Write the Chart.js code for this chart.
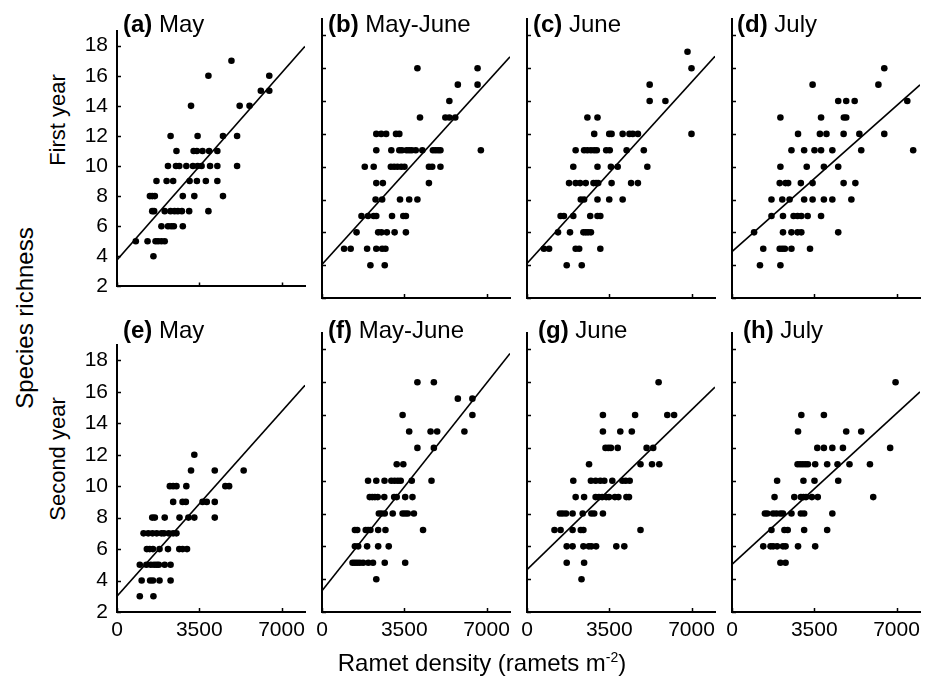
<!DOCTYPE html>
<html>
<head>
<meta charset="utf-8">
<script src="https://cdn.jsdelivr.net/npm/chart.js@4/dist/chart.umd.min.js"></script>
<style>
  body { margin: 0; background: #fff; width: 933px; height: 683px; position: relative; overflow: hidden;
         font-family: "Liberation Sans", Arial, sans-serif; color: #000; }
  canvas { position: absolute; }
  .panel-title { position: absolute; font-size: 24px; line-height: 1; white-space: nowrap; }
  .rot { position: absolute; white-space: nowrap; line-height: 1; transform: translate(-50%, -50%) rotate(-90deg); }
  .xtitle { position: absolute; font-size: 24px; line-height: 1; white-space: nowrap; transform: translateX(-50%); }
  .xtitle sup { font-size: 14px; vertical-align: 9px; }
</style>
</head>
<body>
<div id="wrap"></div>
<script>
// ---- data ----
var densityA  = [4870, 3890,6480, 6120,6480, 3150,5220,5640, 2280,3430,4510,5110,
                 2530,3260,3400,3640,3920,4270, 2170,2510,2650,2950,3230,3430,3600,3960,4270,5110,
                 1680,2110,2390,3090,3400,3780,4270, 1400,1500,1610,2800,3290,4510,
                 1500,1580,2030,2280,2450,2590,2760,3070,3890, 1890,2170,2310,2420,2800,
                 800,1300,1640,1750,1890,2030, 1550];
var richnessA = [17, 16,16, 15,15, 14,14,14, 12,12,12,12,
                 11,11,11,11,11,11, 10,10,10,10,10,10,10,10,10,10,
                 9,9,9,9,9,9,9, 8,8,8,8,8,8,
                 7,7,7,7,7,7,7,7,7, 6,6,6,6,6,
                 5,5,5,5,5,5, 4];

var densityB  = [4060,6620, 5780,6620, 5420, 4170,5250,5420,5670, 2310,2520,2730,3150,3290,
                 2310,2950,3290,3400,3600,3710,3820,3990,4270,4720,4830,4940,5040,6760,
                 1820,2200,2930,3070,3210,3370,3510,4550,4690,5040, 2310,2590,4550,
                 2280,2560,3320,3710,4060, 1680,1960,2200,2310,2980,3460,3570,
                 1470,2390,2530,2760,3090,3570, 940,1220,1920,2310,2560,2700, 2060,2670];
var richnessB = [16,16, 15,15, 14, 13,13,13,13, 12,12,12,12,12,
                 11,11,11,11,11,11,11,11,11,11,11,11,11,11,
                 10,10,10,10,10,10,10,10,10,10, 9,9,9,
                 8,8,8,8,8, 7,7,7,7,7,7,7,
                 6,6,6,6,6,6, 5,5,5,5,5,5, 4,4];

var densityC  = [6830, 7000, 5220, 5220,5890, 2570,3000,
                 2860,3500,3600,4070,4360,4500,4720,7000,
                 2070,2430,2570,2720,2860,2970,3370,3520,4240,4970,
                 1970,3000,3570,3860,5120,
                 1790,2070,2260,2500,2830,2940,3030,3600,4430,4720,
                 2290,2430,3000,3500,4070, 1430,1570,1970,2690,3000,3120,
                 1320,1830,2400,2500,2600,2720, 720,940,2070,2220,3120, 1690,2330];
var richnessC = [17, 16, 15, 14,14, 13,13,
                 12,12,12,12,12,12,12,12,
                 11,11,11,11,11,11,11,11,11,11,
                 10,10,10,10,10,
                 9,9,9,9,9,9,9,9,9,9,
                 8,8,8,8,8, 7,7,7,7,7,7,
                 6,6,6,6,6,6, 5,5,5,5,5, 4,4];

var densityD  = [6480, 3430,6230, 4520,4860,5220,7460, 2060,3790,4760,4860,
                 2810,3740,4020,4750,5420,6480, 2530,3070,3510,3790,4270,5500,7710,
                 2060,3180,3910,4520, 2030,2280,2390,2930,3430,4750,5250,
                 1680,2140,2450,3070,3430,3910,4270,5080, 1680,2170,2620,2790,2950,3220,3790,
                 940,2170,2530,2790,2950,4520, 1330,2030,2140,2250,2530,3320, 1190,2060];
var richnessD = [16, 15,15, 14,14,14,14, 13,13,13,13,
                 12,12,12,12,12,12, 11,11,11,11,11,11,11,
                 10,10,10,10, 9,9,9,9,9,9,9,
                 8,8,8,8,8,8,8,8, 7,7,7,7,7,7,7,
                 6,6,6,6,6,6, 5,5,5,5,5,5, 4,4];

var densityE  = [3290, 3150,4160,5390, 2250,2390,2530,2950,4610,4770,
                 2390,2790,2930,3640,3820,4160, 1500,1610,2030,2660,3040,3290,4160,
                 1130,1330,1510,1690,1890,2000,2200,2390,2530,
                 1270,1390,1530,1810,2170,2650,2790,2980,
                 970,1250,1440,1580,1690,1780,2030,2280, 1050,1410,1530,1810,2280, 970,1550];
var richnessE = [12, 11,11,11, 10,10,10,10,10,10,
                 9,9,9,9,9,9, 8,8,8,8,8,8,8,
                 7,7,7,7,7,7,7,7,7,
                 6,6,6,6,6,6,6,6,
                 5,5,5,5,5,5,5,5, 4,4,4,4,4, 3,3];

var densityF  = [4060,4760, 5780,6400, 3430,6400, 3710,4620,4900,6060, 4060,4760, 3180,3460,
                 1960,2310,2660,2950,3090,3230,3350,3820,4660,
                 2030,2140,2250,2370,2650,3070,3180,3540,3850,
                 2420,2530,2670,3010,3430,3540,3650,3910,
                 1400,1500,1860,1960,2060,2390,2700,4300, 1400,1540,1920,2390,2840,
                 1300,1400,1500,1610,1750,1970,2170,2670,3540, 2310];
var richnessF = [16,16, 15,15, 14,14, 13,13,13,13, 12,12, 11,11,
                 10,10,10,10,10,10,10,10,10,
                 9,9,9,9,9,9,9,9,9,
                 8,8,8,8,8,8,8,8,
                 7,7,7,7,7,7,7,7, 6,6,6,6,6,
                 5,5,5,5,5,5,5,5,5, 4];

var densityG  = [5600, 3230,4600,5970,6260, 3230,3970,4460, 3340,3460,3570,3860,5090,5370,
                 2640,4830,5320,5630, 1970,2720,2920,3120,3290,3630,4060,4200,4370,
                 2070,2430,2920,3060,3200,3370,3490,3740,3890,4230,4340,
                 1400,1520,1660,1940,2370,2740,2860,3230, 1170,1430,1940,2290,2400,4830,
                 1690,1940,2400,2630,2740,2940,3800,4140, 1690,2430, 2320];
var richnessG = [16, 14,14,14,14, 13,13,13, 12,12,12,12,12,12,
                 11,11,11,11, 10,10,10,10,10,10,10,10,10,
                 9,9,9,9,9,9,9,9,9,9,9,
                 8,8,8,8,8,8,8,8, 7,7,7,7,7,7,
                 6,6,6,6,6,6,6,6, 5,5, 4];

var densityH  = [6960, 2950,3910, 2810,4860,5500, 3630,3910,4270,4720,6730,
                 2790,2900,3010,3120,3230,3540,4050,4490,5000,5870, 1920,3040,3510,4520,
                 1810,2650,2930,3040,3150,3400,3650,6010,
                 1400,1500,1750,1890,2060,2170,2530,2930,3070,4270, 1680,2230,2370,3070,4050,
                 1330,1640,1750,1920,2170,2280,2810,3540, 2060,2280];
var richnessH = [16, 14,14, 13,13,13, 12,12,12,12,12,
                 11,11,11,11,11,11,11,11,11,11, 10,10,10,10,
                 9,9,9,9,9,9,9,9,
                 8,8,8,8,8,8,8,8,8,8, 7,7,7,7,7,
                 6,6,6,6,6,6,6,6, 5,5];

// fitted lines: richness = intercept + slope * density
var intercepts = [3.75, 4.05, 4.10, 4.83, 3.00, 3.29, 4.58, 4.90];
var slopes     = [0.001775, 0.00158, 0.001578, 0.00127, 0.001677, 0.001808, 0.00139, 0.001314];

var panelLetters = ['(a)', '(b)', '(c)', '(d)', '(e)', '(f)', '(g)', '(h)'];
var panelMonths  = ['May', 'May-June', 'June', 'July', 'May', 'May-June', 'June', 'July'];
var xTicks = [0, 3500, 7000];
var yTicks = [2, 4, 6, 8, 10, 12, 14, 16, 18];

var densities  = [densityA, densityB, densityC, densityD, densityE, densityF, densityG, densityH];
var richnesses = [richnessA, richnessB, richnessC, richnessD, richnessE, richnessF, richnessG, richnessH];

// ---- layout ----
var colLeft = [117, 322, 527, 732];
var rowTop = [19, 333];
var plotW = 188, plotH = 279;
var titleLeft = [[123, 328, 533, 737], [123, 328, 538, 743]];
var titleTop = [12, 318];

var FONT = '"Liberation Sans", Arial, sans-serif';
var wrap = document.getElementById('wrap');

// small inward tick marks on both axes
var innerTicks = {
  id: 'innerTicks',
  afterDraw: function(chart) {
    var ctx = chart.ctx, area = chart.chartArea;
    var xs = chart.scales.x, ys = chart.scales.y;
    ctx.save();
    ctx.strokeStyle = '#000';
    ctx.lineWidth = 1.5;
    ctx.beginPath();
    xs.ticks.forEach(function(t) {
      var px = Math.round(xs.getPixelForValue(t.value)) + 0.5;
      ctx.moveTo(px, area.bottom);
      ctx.lineTo(px, area.bottom - 4);
    });
    ys.ticks.forEach(function(t) {
      var py = Math.round(ys.getPixelForValue(t.value)) + 0.5;
      ctx.moveTo(area.left, py);
      ctx.lineTo(area.left + 4, py);
    });
    ctx.stroke();
    ctx.restore();
  }
};

function makePanel(i) {
  var col = i % 4, row = Math.floor(i / 4);
  var padL = col === 0 ? 45 : 15;
  var padB = row === 1 ? 40 : 10;
  var padT = 10, padR = 12;

  var cv = document.createElement('canvas');
  cv.width = plotW + padL + padR;
  cv.height = plotH + padT + padB;
  cv.style.left = (colLeft[col] - padL) + 'px';
  cv.style.top = (rowTop[row] - padT) + 'px';
  cv.style.width = cv.width + 'px';
  cv.style.height = cv.height + 'px';
  wrap.appendChild(cv);

  var pts = densities[i].map(function(d, k) { return { x: d, y: richnesses[i][k] }; });
  var fit = [0, 8000].map(function(d) { return { x: d, y: intercepts[i] + slopes[i] * d }; });

  new Chart(cv.getContext('2d'), {
    type: 'scatter',
    data: {
      datasets: [{
        data: pts,
        pointRadius: 3.3,
        pointBackgroundColor: '#000',
        pointBorderWidth: 0
      }, {
        data: fit,
        showLine: true,
        borderColor: '#000',
        borderWidth: 1.6,
        pointRadius: 0
      }]
    },
    options: {
      responsive: false,
      devicePixelRatio: 1,
      animation: false,
      layout: { padding: { top: padT, right: padR, left: 0, bottom: 0 } },
      plugins: { legend: { display: false }, tooltip: { enabled: false } },
      scales: {
        x: {
          type: 'linear', min: 0, max: 8000,
          afterBuildTicks: function(s) { s.ticks = xTicks.map(function(v) { return { value: v }; }); },
          ticks: { display: row === 1, color: '#000', padding: 6, maxRotation: 0,
                   callback: function(v) { return String(v); },
                   font: { family: FONT, size: 21 } },
          grid: { display: false, drawTicks: false },
          border: { display: true, color: '#000', width: 2 },
          afterFit: function(s) { s.height = padB; }
        },
        y: {
          type: 'linear', min: 2, max: 19,
          afterBuildTicks: function(s) { s.ticks = yTicks.map(function(v) { return { value: v }; }); },
          ticks: { display: col === 0, color: '#000', padding: 9,
                   callback: function(v) { return String(v); },
                   font: { family: FONT, size: 21 } },
          grid: { display: false, drawTicks: false },
          border: { display: true, color: '#000', width: 2 },
          afterFit: function(s) { s.width = padL; }
        }
      }
    },
    plugins: [innerTicks]
  });

  var t = document.createElement('div');
  t.className = 'panel-title';
  t.style.left = titleLeft[row][col] + 'px';
  t.style.top = titleTop[row] + 'px';
  t.innerHTML = '<b>' + panelLetters[i] + '</b> ' + panelMonths[i];
  document.body.appendChild(t);
}

for (var i = 0; i < 8; i++) makePanel(i);
</script>
<div class="rot" style="left:25px; top:318px; font-size:24px;">Species richness</div>
<div class="rot" style="left:58px; top:120px; font-size:22px;">First year</div>
<div class="rot" style="left:58px; top:459px; font-size:22px;">Second year</div>
<div class="xtitle" style="left:482px; top:650px;">Ramet density (ramets m<sup>-2</sup>)</div>
</body>
</html>
